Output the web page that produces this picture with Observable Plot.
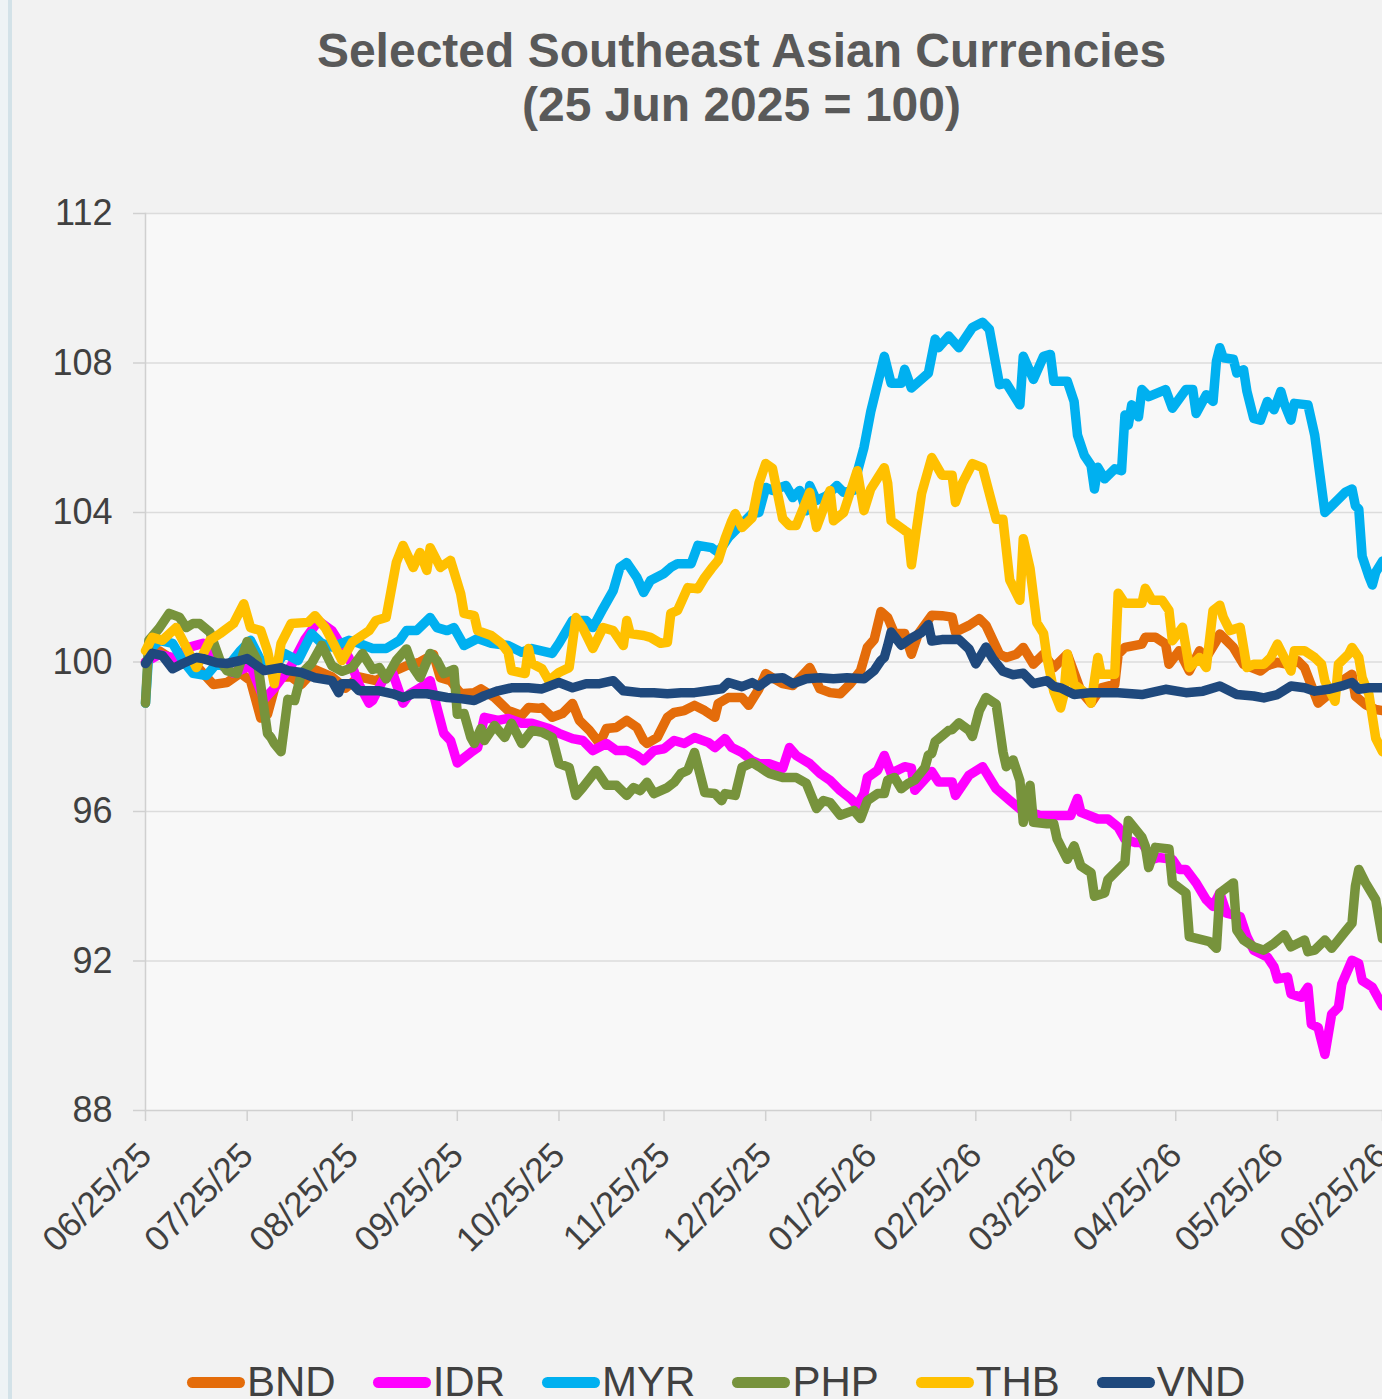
<!DOCTYPE html>
<html>
<head>
<meta charset="utf-8">
<script src="https://cdn.jsdelivr.net/npm/d3@7"></script>
<script src="https://cdn.jsdelivr.net/npm/@observablehq/plot@0.6"></script>
<style>
  html, body { margin: 0; padding: 0; overflow: hidden; background: #eef3f5; width: 1382px; height: 1399px; }
  #edge { position: absolute; left: 8px; top: 0; width: 4px; height: 1399px; background: #d3e2e8; }
  #chart { position: absolute; left: 12px; top: 0; width: 1470px; height: 1399px; background: #f2f2f2;
           font-family: "Liberation Sans", Arial, sans-serif; }
  #title { position: absolute; left: 0; top: 24px; width: 1459px; text-align: center; font-weight: bold;
           font-size: 48px; line-height: 54px; color: #595959; }
  #plot { position: absolute; left: 0; top: 150px; }
  #legend { position: absolute; left: 175px; top: 1358px; display: flex; font-size: 42px; line-height: 48px; color: #404040; }
  .item { display: flex; align-items: center; margin-right: 37px; }
  .sw { width: 58px; height: 11px; border-radius: 6px; margin-right: 2px; }
</style>
</head>
<body>
<div id="edge"></div>
<div id="chart">
  <div id="title">Selected Southeast Asian Currencies<br>(25 Jun 2025 = 100)</div>
  <div id="plot"></div>
  <div id="legend"></div>
</div>
<script>
// ---- Data (day offset from 25 Jun 2025, index value) ----
const seriesNames = ["BND", "IDR", "MYR", "PHP", "THB", "VND"];
const seriesColors = ["#E46C0A", "#FF00FF", "#00B0F0", "#77933C", "#FFC000", "#1F497D"];
const yTicks = [88, 92, 96, 100, 104, 108, 112];
const xTickLabels = ["06/25/25","07/25/25","08/25/25","09/25/25","10/25/25","11/25/25","12/25/25",
                     "01/25/26","02/25/26","03/25/26","04/25/26","05/25/26","06/25/26"];

const BND = [[0,100.0],[4,100.3],[9,100.0],[13,99.9],[16,99.8],[20,99.4],[24,99.45],[28,99.7],[31,99.5],[34,98.5],[36,98.6],[39,99.6],[43,99.6],[46,99.4],[50,99.8],[55,99.6],[59,99.3],[63,99.6],[68,99.5],[72,99.7],[77,99.9],[81,100.0],[83,100.1],[85,100.2],[87,99.58],[90,99.5],[93,99.15],[97,99.18],[99,99.28],[103,99.05],[107,98.7],[111,98.57],[113,98.78],[116,98.76],[117,98.78],[120,98.52],[123,98.62],[126,98.89],[128,98.44],[131,98.17],[134,97.82],[136,98.22],[139,98.25],[142,98.44],[145,98.25],[147,97.9],[148,97.82],[151,97.98],[154,98.52],[156,98.65],[159,98.7],[162,98.84],[165,98.7],[168,98.52],[169,98.89],[172,99.05],[176,99.05],[178,98.84],[181,99.28],[183,99.69],[185,99.58],[188,99.42],[191,99.37],[196,99.85],[199,99.28],[202,99.18],[205,99.15],[208,99.42],[211,99.77],[213,100.39],[215,100.6],[217,101.35],[219,101.19],[221,100.76],[224,100.76],[226,100.21],[228,100.75],[232,101.25],[235,101.24],[238,101.2],[239,100.8],[243,100.98],[246,101.16],[248,100.98],[252,100.21],[254,100.12],[257,100.21],[259,100.39],[262,99.94],[265,100.21],[268,99.85],[272,100.21],[276,99.22],[279,98.9],[282,99.31],[286,99.4],[287,100.21],[289,100.39],[294,100.48],[295,100.66],[298,100.66],[301,100.48],[302,99.94],[305,100.3],[308,99.76],[311,100.3],[313,100.12],[316,100.57],[317,100.75],[321,100.39],[324,99.94],[329,99.76],[331,99.9],[334,99.99],[337,99.94],[340,100.03],[342,99.85],[346,98.9],[349,99.13],[353,99.49],[356,99.67],[357,99.09],[360,98.86],[363,98.73],[365,98.7]];

const IDR = [[0,100.0],[4,100.2],[9,100.1],[13,100.4],[17,100.5],[21,100.0],[26,99.7],[31,99.9],[35,99.0],[38,99.3],[43,99.9],[47,100.6],[51,101.1],[55,100.84],[60,100.12],[63,99.4],[66,98.9],[67,98.97],[70,99.5],[73,99.69],[76,98.9],[78,99.15],[81,99.31],[84,99.5],[86,98.78],[88,98.09],[90,97.9],[92,97.3],[96,97.58],[98,97.71],[100,98.52],[104,98.44],[107,98.49],[111,98.36],[114,98.36],[119,98.22],[122,98.09],[126,97.95],[129,97.9],[132,97.63],[136,97.82],[139,97.63],[142,97.63],[145,97.5],[147,97.36],[150,97.63],[153,97.68],[156,97.9],[159,97.82],[162,97.98],[166,97.85],[168,97.71],[171,97.95],[173,97.71],[176,97.58],[179,97.36],[181,97.28],[184,97.28],[188,97.15],[190,97.71],[192,97.5],[196,97.28],[199,97.02],[202,96.83],[205,96.56],[208,96.35],[210,96.16],[212,96.48],[213,96.91],[216,97.1],[218,97.5],[220,97.02],[224,97.2],[226,97.16],[227,96.57],[232,97.07],[234,96.79],[238,96.79],[239,96.43],[243,96.97],[247,97.2],[251,96.61],[255,96.3],[258,96.07],[264,95.89],[273,95.89],[275,96.35],[276,95.98],[281,95.8],[284,95.8],[287,95.58],[289,95.26],[292,95.17],[294,95.17],[297,94.72],[299,94.77],[303,94.72],[305,94.45],[307,94.45],[310,94.09],[313,93.64],[315,93.46],[317,93.82],[319,93.28],[323,93.19],[325,92.65],[327,92.29],[331,92.11],[333,91.84],[334,91.52],[337,91.57],[338,91.12],[341,91.03],[343,91.3],[344,90.31],[346,90.22],[348,89.5],[350,90.58],[352,90.76],[353,91.39],[356,92.02],[358,91.93],[359,91.48],[362,91.3],[365,90.8]];

const MYR = [[0,98.9],[1,100.3],[4,100.58],[8,100.5],[11,100.04],[14,99.7],[18,99.64],[21,99.96],[24,99.85],[28,100.3],[31,100.58],[34,100.04],[38,99.85],[41,100.23],[45,100.04],[49,100.76],[52,100.5],[55,100.4],[60,100.58],[63,100.5],[67,100.36],[71,100.36],[75,100.58],[77,100.84],[80,100.84],[84,101.19],[86,100.92],[89,100.84],[91,100.92],[94,100.44],[98,100.63],[102,100.5],[107,100.44],[111,100.26],[114,100.36],[120,100.23],[122,100.5],[126,101.11],[130,101.11],[132,100.92],[135,101.43],[138,101.91],[140,102.53],[142,102.66],[145,102.26],[147,101.86],[149,102.18],[153,102.37],[155,102.53],[157,102.63],[161,102.63],[163,103.12],[167,103.06],[169,102.93],[172,103.33],[176,103.7],[179,103.97],[181,104.0],[183,104.67],[185,104.59],[189,104.72],[191,104.4],[193,104.59],[195,104.05],[196,104.72],[198,104.32],[201,104.45],[204,104.72],[206,104.54],[209,104.59],[210,105.07],[212,105.74],[214,106.7],[218,108.18],[220,107.46],[223,107.46],[224,107.83],[226,107.33],[231,107.73],[233,108.64],[234,108.41],[237,108.72],[240,108.41],[244,108.95],[247,109.09],[249,108.9],[252,107.42],[254,107.46],[258,106.88],[259,108.18],[262,107.56],[265,108.18],[267,108.23],[268,107.51],[272,107.51],[274,106.97],[275,106.07],[277,105.53],[279,105.26],[280,104.63],[281,105.21],[283,104.9],[286,105.17],[288,105.12],[289,106.61],[290,106.34],[291,106.88],[293,106.56],[294,107.29],[296,107.1],[301,107.29],[303,106.79],[307,107.29],[309,107.29],[310,106.65],[313,107.15],[315,106.97],[316,108.05],[317,108.41],[318,108.14],[321,108.1],[322,107.73],[324,107.82],[325,107.24],[327,106.52],[329,106.47],[331,106.97],[333,106.75],[335,107.24],[336,106.92],[338,106.47],[339,106.92],[343,106.88],[345,106.07],[348,104.0],[350,104.18],[352,104.36],[354,104.54],[356,104.63],[357,104.18],[358,104.09],[359,102.83],[361,102.29],[362,102.06],[363,102.4],[365,102.7]];

const PHP = [[0,98.9],[1,100.58],[4,100.9],[7,101.3],[10,101.2],[12,100.92],[14,101.03],[16,101.03],[19,100.8],[22,100.04],[24,99.77],[27,99.69],[30,100.55],[33,100.04],[36,98.09],[37,97.98],[38,97.82],[40,97.6],[42,99.0],[44,98.97],[46,99.69],[49,99.96],[52,100.45],[55,99.9],[58,99.75],[61,99.85],[64,100.23],[67,99.8],[69,99.85],[71,99.55],[74,100.04],[77,100.35],[79,99.85],[81,99.58],[84,100.23],[86,100.04],[88,99.69],[91,99.8],[92,98.6],[94,98.62],[96,97.98],[97,97.82],[99,98.22],[100,97.9],[103,98.3],[106,97.98],[108,98.36],[111,97.82],[114,98.17],[117,98.12],[120,97.98],[122,97.28],[125,97.18],[127,96.43],[129,96.64],[133,97.1],[136,96.7],[139,96.7],[142,96.43],[144,96.64],[146,96.56],[148,96.78],[150,96.48],[154,96.64],[156,96.78],[158,97.02],[160,97.1],[162,97.58],[165,96.51],[168,96.48],[170,96.29],[171,96.48],[174,96.43],[176,97.18],[179,97.31],[181,97.2],[184,97.02],[188,96.91],[192,96.91],[195,96.75],[198,96.08],[200,96.29],[202,96.24],[205,95.9],[209,96.03],[211,95.81],[213,96.29],[216,96.48],[218,96.48],[219,96.84],[221,96.91],[223,96.61],[225,96.75],[227,96.84],[230,97.18],[231,97.51],[232,97.55],[233,97.87],[237,98.17],[238,98.19],[240,98.37],[243,98.17],[244,98.01],[246,98.69],[248,99.05],[251,98.87],[253,97.6],[254,97.2],[256,97.38],[258,96.83],[259,95.71],[261,96.7],[262,95.71],[266,95.67],[268,95.67],[269,95.26],[272,94.72],[274,95.08],[276,94.54],[279,94.36],[280,93.73],[283,93.82],[284,94.18],[287,94.45],[289,94.63],[290,95.76],[294,95.31],[295,95.08],[296,94.5],[298,95.04],[302,95.0],[303,94.09],[307,93.82],[308,92.65],[314,92.52],[316,92.34],[317,93.82],[321,94.09],[322,92.83],[324,92.56],[327,92.38],[330,92.29],[333,92.47],[336,92.7],[338,92.38],[342,92.56],[343,92.25],[345,92.29],[348,92.56],[350,92.34],[352,92.56],[354,92.79],[356,93.01],[357,94.0],[358,94.45],[360,94.09],[363,93.64],[365,92.6]];

const THB = [[0,100.3],[2,100.66],[5,100.58],[9,100.92],[12,100.4],[15,99.85],[19,100.58],[22,100.76],[26,101.03],[29,101.56],[31,100.92],[34,100.84],[36,100.3],[38,99.42],[40,100.5],[43,101.03],[48,101.06],[50,101.24],[53,100.92],[55,100.58],[58,100.04],[61,100.53],[66,100.84],[68,101.11],[71,101.19],[74,102.66],[76,103.12],[79,102.53],[81,102.93],[83,102.45],[84,103.06],[87,102.53],[90,102.72],[93,101.83],[94,101.3],[97,101.24],[98,100.84],[102,100.71],[105,100.5],[107,100.26],[108,99.77],[112,99.69],[113,100.36],[114,99.96],[117,99.82],[119,99.5],[122,99.72],[125,99.85],[127,101.19],[129,100.92],[132,100.36],[135,100.92],[138,100.84],[141,100.44],[142,101.11],[143,100.76],[147,100.71],[149,100.66],[152,100.5],[154,100.53],[155,101.3],[157,101.38],[160,101.99],[163,101.96],[165,102.26],[167,102.5],[169,102.72],[171,103.3],[173,103.78],[174,103.97],[176,103.6],[179,103.86],[181,104.78],[183,105.31],[185,105.18],[188,103.84],[190,103.65],[192,103.65],[196,104.54],[198,103.6],[202,104.59],[203,103.78],[206,104.0],[210,105.12],[212,104.05],[214,104.63],[218,105.2],[219,104.78],[220,103.78],[224,103.52],[225,103.46],[226,102.6],[229,104.51],[232,105.47],[235,105.0],[238,105.0],[239,104.27],[241,104.78],[244,105.31],[247,105.2],[251,103.82],[253,103.82],[255,102.2],[258,101.65],[259,103.3],[261,102.5],[263,101.05],[265,100.76],[266,100.12],[268,99.22],[270,98.77],[271,99.13],[272,100.21],[274,99.4],[278,99.13],[279,98.9],[281,100.12],[282,99.67],[286,99.67],[287,101.84],[289,101.57],[294,101.57],[295,101.97],[297,101.65],[300,101.65],[302,101.38],[303,100.57],[306,100.93],[308,99.85],[311,100.12],[313,99.85],[315,101.38],[317,101.52],[318,101.2],[320,100.84],[323,100.93],[325,99.85],[327,99.94],[330,99.94],[332,100.12],[334,100.48],[336,100.12],[338,99.76],[339,100.3],[342,100.3],[345,100.12],[347,99.94],[348,99.49],[351,98.95],[352,99.94],[355,100.21],[356,100.39],[358,100.12],[359,99.58],[361,99.13],[363,97.96],[365,97.6]];

const VND = [[0,99.96],[2,100.23],[5,100.17],[8,99.82],[11,99.96],[15,100.12],[17,100.09],[21,99.98],[24,99.96],[28,100.04],[30,100.09],[32,99.96],[35,99.77],[40,99.85],[42,99.77],[46,99.72],[50,99.58],[55,99.5],[57,99.18],[58,99.42],[61,99.42],[63,99.23],[69,99.23],[73,99.15],[76,99.05],[79,99.15],[83,99.15],[89,99.05],[93,99.02],[97,98.97],[100,99.1],[104,99.23],[108,99.31],[113,99.31],[117,99.28],[122,99.45],[126,99.31],[130,99.42],[134,99.42],[138,99.5],[141,99.23],[146,99.18],[150,99.18],[154,99.15],[158,99.18],[162,99.18],[166,99.23],[170,99.28],[172,99.45],[176,99.34],[179,99.45],[181,99.35],[184,99.55],[188,99.58],[191,99.42],[195,99.55],[199,99.58],[203,99.55],[207,99.58],[212,99.55],[215,99.77],[217,100.04],[218,100.12],[219,100.44],[220,100.8],[223,100.45],[226,100.64],[229,100.79],[231,101.0],[232,100.56],[235,100.6],[240,100.6],[243,100.35],[245,99.95],[248,100.4],[250,100.09],[253,99.75],[256,99.66],[259,99.7],[262,99.42],[266,99.5],[268,99.35],[270,99.31],[274,99.13],[279,99.18],[287,99.18],[294,99.13],[301,99.27],[307,99.18],[312,99.22],[317,99.36],[322,99.13],[327,99.09],[330,99.04],[334,99.13],[338,99.36],[342,99.31],[345,99.22],[349,99.27],[353,99.36],[356,99.45],[358,99.27],[361,99.31],[365,99.31]];

const seriesData = [BND, IDR, MYR, PHP, THB, VND];

// ---- Build table ----
const startMs = Date.UTC(2025, 5, 25);
const rows = seriesNames.flatMap((name, i) =>
  seriesData[i].map(([d, v]) => ({ name, date: new Date(startMs + d * 864e5), value: v })));
const parseTick = d3.utcParse("%m/%d/%y");
const xTicks = xTickLabels.map(parseTick);
const fmtTick = d3.utcFormat("%m/%d/%y");

const chart = Plot.plot({
  width: 1470,
  height: 1140,
  marginTop: 63,
  marginLeft: 133,
  marginRight: 100,
  marginBottom: 180,
  style: { background: "transparent", fontFamily: "'Liberation Sans', Arial, sans-serif", fontSize: "36px", color: "#404040", overflow: "visible" },
  x: { type: "utc", domain: [xTicks[0], xTicks[xTicks.length - 1]] },
  y: { domain: [yTicks[0], yTicks[yTicks.length - 1]] },
  color: { domain: seriesNames, range: seriesColors },
  marks: [
    Plot.frame({ fill: "#f8f8f8", stroke: "none" }),
    Plot.gridY(yTicks.slice(1), { stroke: "#dcdcdc", strokeOpacity: 1, strokeWidth: 1.5 }),
    Plot.frame({ anchor: "left", stroke: "#d0d0d0", strokeWidth: 1.5 }),
    Plot.frame({ anchor: "bottom", stroke: "#d0d0d0", strokeWidth: 1.5 }),
    Plot.axisY(yTicks, { tickSize: 12, tickPadding: 21, stroke: "#d0d0d0", strokeWidth: 1.5, fill: "#404040", fontSize: 36, label: null, tickFormat: d => String(d) }),
    Plot.axisX(xTicks, { tickSize: 11, tickPadding: 28, tickRotate: -45, stroke: "#d0d0d0", strokeWidth: 1.5, fill: "#404040", fontSize: 35, label: null, tickFormat: fmtTick }),
    Plot.line(rows, { x: "date", y: "value", z: "name", stroke: "name", strokeWidth: 9.5, strokeLinejoin: "round", strokeLinecap: "round", curve: "linear" })
  ]
});
document.getElementById("plot").appendChild(chart);

// ---- Legend ----
const legend = document.getElementById("legend");
seriesNames.forEach((name, i) => {
  const item = document.createElement("div");
  item.className = "item";
  const sw = document.createElement("div");
  sw.className = "sw";
  sw.style.background = seriesColors[i];
  const label = document.createElement("span");
  label.textContent = name;
  item.appendChild(sw);
  item.appendChild(label);
  legend.appendChild(item);
});
</script>
</body>
</html>
